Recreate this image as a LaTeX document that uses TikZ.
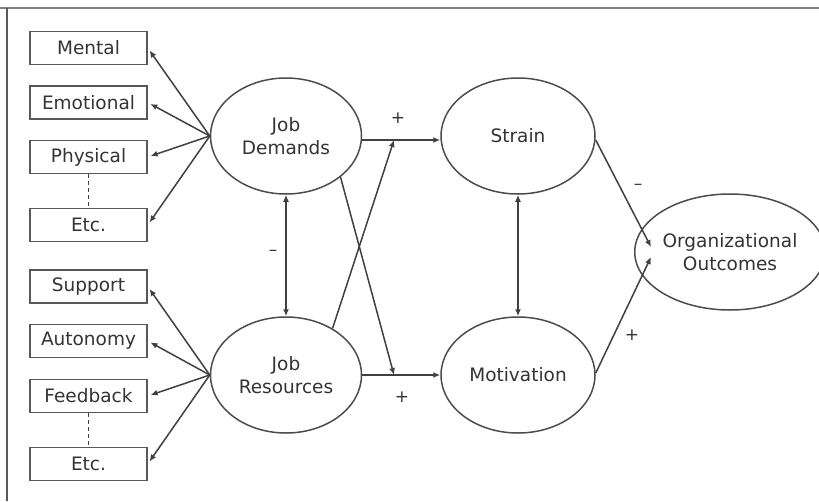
\documentclass[tikz,border=0pt]{standalone}
\usepackage{fontspec}
\setmainfont{DejaVu Sans}
\usetikzlibrary{shapes.geometric,arrows.meta,calc}
\begin{document}
\begin{tikzpicture}[x=1pt,y=-1pt,
  every node/.style={font=\fontsize{18.5}{22.5}\selectfont, text=black!80},
  ln/.style={draw=black!75, line width=1.5pt},
  arr/.style={ln, -{Latex[length=7pt,width=6pt]}},
  darr/.style={ln, {Latex[length=7pt,width=6pt]}-{Latex[length=7pt,width=6pt]}},
  itembox/.style={draw=black!65, line width=1.5pt, minimum width=117pt, minimum height=33pt, inner sep=0pt},
  oval/.style={draw=black!70, line width=1.5pt, ellipse, minimum width=151pt, minimum height=116pt, inner sep=0pt, align=center},
  sgn/.style={font=\fontsize{17}{18}\selectfont, inner sep=0pt}
]
\useasboundingbox (0,0) rectangle (819,501);
\draw[draw=black!50, line width=2pt] (0,8) -- (819,8);
\draw[draw=black!65, line width=2pt] (7,8) -- (7,501);

% boxes
\node[itembox] (men) at (88.5,48) {Mental};
\node[itembox] (emo) at (88.5,102.5) {Emotional};
\node[itembox] (phy) at (88.5,157) {Physical};
\node[itembox] (etc1) at (88.5,225) {Etc.};
\node[itembox] (sup) at (88.5,286.5) {Support};
\node[itembox] (aut) at (88.5,341) {Autonomy};
\node[itembox] (fee) at (88.5,396) {Feedback};
\node[itembox] (etc2) at (88.5,464) {Etc.};

% ellipses
\node[oval] (jd) at (286,136) {Job\\Demands};
\node[oval] (jr) at (286,375) {Job\\Resources};
\node[oval, minimum width=154pt] (st) at (518,136) {Strain};
\node[oval, minimum width=154pt] (mo) at (518,375) {Motivation};
\node[oval, minimum width=154pt] (oo) at (730,252) {Organizational\\Outcomes};

\coordinate (j1) at (394,140);
\coordinate (j2) at (394,375);
\coordinate (o1) at (651,247);
\coordinate (o2) at (651,257);

% demands/resources to boxes
\foreach \b in {men,emo,phy,etc1} \draw[arr, shorten >=3pt] (jd.west) -- (\b.east);
\foreach \b in {sup,aut,fee,etc2} \draw[arr, shorten >=3pt] (jr.west) -- (\b.east);

\draw[ln, dashed, line width=1pt, dash pattern=on 4pt off 3pt] (phy.south) -- (etc1.north);
\draw[ln, dashed, line width=1pt, dash pattern=on 4pt off 3pt] (fee.south) -- (etc2.north);

% main arrows
\draw[arr] (jd.east |- j1) -- (st.west |- j1);
\draw[arr] (jr.east |- j2) -- (mo.west |- j2);
\draw[arr] (jd.-37) -- (j2);
\draw[arr] (jr.45) -- (j1);
\draw[darr] (jd.south) -- (jr.north);
\draw[darr] (st.south) -- (mo.north);
\draw[arr] ($(st.east)+(0,4)$) -- (o1);
\draw[arr] ($(mo.east)+(0,-2)$) -- (o2);

% signs
\node[sgn] (p1) at (398,118) {+};
\node[sgn] (p2) at (402,397) {+};
\node[sgn] (m1) at (273,253) {–};
\node[sgn] (m2) at (638,187) {–};
\node[sgn] (p3) at (632,335) {+};
\end{tikzpicture}
\end{document}
